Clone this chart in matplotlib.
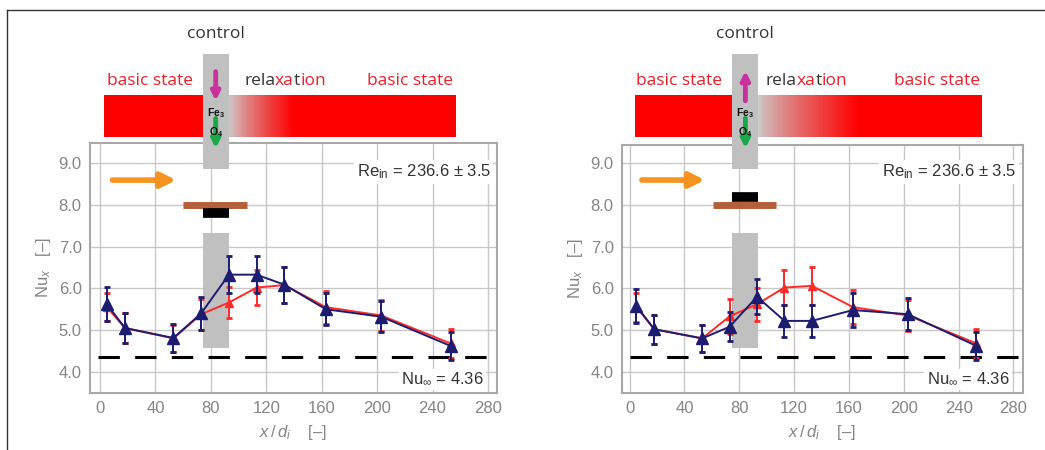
import matplotlib
matplotlib.use('Agg')
import matplotlib.pyplot as plt
import numpy as np
from matplotlib.lines import Line2D
from matplotlib.patches import Rectangle

plt.rcParams['font.family'] = ['Liberation Sans', 'DejaVu Sans']
plt.rcParams['mathtext.fontset'] = 'custom'
plt.rcParams['mathtext.rm'] = 'Liberation Sans'
plt.rcParams['mathtext.it'] = 'Liberation Sans:italic'

# positions along the tube, x/d_i
x = [5, 18, 53, 73, 93, 113, 133, 163, 203, 253]

# left panel (control: Fe3O4 moved down)
blue_a = [5.62, 5.05, 4.81, 5.40, 6.33, 6.33, 6.09, 5.50, 5.32, 4.62]
blue_a_err = [0.41, 0.35, 0.33, 0.39, 0.44, 0.44, 0.43, 0.38, 0.37, 0.33]
red_a = [5.55, 5.05, 4.80, 5.38, 5.66, 6.02, 6.08, 5.55, 5.35, 4.68]
red_a_err = [0.33, 0.35, 0.33, 0.37, 0.38, 0.42, 0.43, 0.40, 0.38, 0.35]

# right panel (control: Fe3O4 moved up)
blue_b = [5.58, 5.02, 4.80, 5.08, 5.80, 5.22, 5.22, 5.48, 5.38, 4.62]
blue_b_err = [0.40, 0.35, 0.33, 0.35, 0.42, 0.38, 0.38, 0.40, 0.38, 0.33]
red_b = [5.55, 5.02, 4.80, 5.33, 5.62, 6.02, 6.06, 5.55, 5.35, 4.68]
red_b_err = [0.35, 0.35, 0.33, 0.42, 0.40, 0.43, 0.45, 0.40, 0.37, 0.35]

nu_inf = 4.36
xticks = [0, 40, 80, 120, 160, 200, 240, 280]
yticks = [4.0, 5.0, 6.0, 7.0, 8.0, 9.0]

W, H = 1045, 450
fig = plt.figure(figsize=(W / 100, H / 100), dpi=100)

RED = '#ff0000'
TRED = '#e8202a'
DARK = '#333333'
GREY = '#c0c0c0'
NAVY = '#1c1c70'
LRED = '#ff2a2a'


def px_axes(l, r, t, b):
    return fig.add_axes([l / W, (H - b) / H, (r - l) / W, (b - t) / H])


def multicolor(ax, xc, y, pieces, size):
    r = fig.canvas.get_renderer()
    full = ax.text(xc, y, ''.join(p for p, c in pieces), fontsize=size,
                   family='Open Sans')
    total = full.get_window_extent(r).width
    full.remove()
    off = -total / 2
    for p, c in pieces:
        t = ax.annotate(p, (xc, y), xytext=(off, 0), textcoords='offset pixels',
                        fontsize=size, family='Open Sans', color=c,
                        ha='left', va='center', annotation_clip=False)
        off += t.get_window_extent(r).width


def panel(ax, xlim, ylim, blue, blue_err, red, red_err, col, grad_end, bar_l, bar_r,
          bs1, rel, bs2, up, black_y, brown_y, bar_x0, bar_x1):
    ax.set_xlim(*xlim)
    ax.set_ylim(*ylim)
    ax.set_xticks(xticks)
    ax.set_yticks(yticks)
    ax.set_yticklabels(['%.1f' % v for v in yticks])
    ax.tick_params(length=0, labelsize=12, labelcolor='#858585', pad=6)
    ax.grid(True, color='#c8c8c8', lw=1)
    ax.set_axisbelow(True)
    for s in ax.spines.values():
        s.set_color('#a8a8a8')
        s.set_linewidth(1.5)

    c0, c1 = col
    # red state bar with relaxation gradient
    ax.add_patch(Rectangle((bar_l, 9.63), c0 - bar_l, 1.0, fc=RED, lw=0,
                           clip_on=False, zorder=3))
    ax.add_patch(Rectangle((grad_end - 0.5, 9.63), bar_r - grad_end + 0.5, 1.0,
                           fc=RED, lw=0, clip_on=False, zorder=3))
    n = 120
    edges = np.linspace(c1, grad_end, n + 1)
    for i in range(n):
        f = (i / (n - 1)) ** 0.8
        colr = (0.80 + 0.20 * f, 0.80 * (1 - f), 0.80 * (1 - f))
        ax.add_patch(Rectangle((edges[i], 9.63), edges[i + 1] - edges[i] + 0.3, 1.0,
                               fc=colr, lw=0, clip_on=False, zorder=3))

    # control column
    ax.add_patch(Rectangle((c0, 8.86), c1 - c0, 11.62 - 8.86, fc=GREY, lw=0,
                           clip_on=False, zorder=4))
    ax.add_patch(Rectangle((c0, 4.57), c1 - c0, 7.32 - 4.57, fc=GREY, lw=0,
                           zorder=1.5))
    cx = (c0 + c1) / 2
    if up:
        y0, y1 = 10.5, 11.22
    else:
        y0, y1 = 11.2, 10.5
    ax.annotate('', xy=(cx, y1), xytext=(cx, y0), annotation_clip=False,
                arrowprops=dict(arrowstyle='-|>', color='#c8329c', lw=3.5,
                                mutation_scale=12, shrinkA=0, shrinkB=0),
                zorder=5)
    ax.annotate('', xy=(cx, 9.36), xytext=(cx, 10.08), annotation_clip=False,
                arrowprops=dict(arrowstyle='-|>', color='#1aa84a', lw=3.5,
                                mutation_scale=12, shrinkA=0, shrinkB=0),
                zorder=5)
    ax.text(cx, 10.2, r'Fe$_{\mathregular{3}}$', fontsize=7.5, fontweight='bold',
            ha='center', va='center', color='#111111', zorder=6, clip_on=False)
    ax.text(cx, 9.76, r'O$_{\mathregular{4}}$', fontsize=7.5, fontweight='bold',
            ha='center', va='center', color='#111111', zorder=6, clip_on=False)

    ax.text(cx, 12.1, 'control', fontsize=12.5, family='Open Sans', color=DARK,
            ha='center', va='center', clip_on=False)
    ax.text(bs1, 10.98, 'basic state', fontsize=12.5, family='Open Sans',
            color=TRED, ha='center', va='center', clip_on=False)
    ax.text(bs2, 10.98, 'basic state', fontsize=12.5, family='Open Sans',
            color=TRED, ha='center', va='center', clip_on=False)
    multicolor(ax, rel, 10.98, [('rela', DARK), ('xa', TRED), ('t', DARK),
                                ('ion', TRED)], 12.5)

    # inflow arrow and heater bars
    ax.annotate('', xy=(55, 8.6), xytext=(9, 8.6),
                arrowprops=dict(arrowstyle='-|>', color='#f7931e', lw=4,
                                mutation_scale=22, shrinkA=0, shrinkB=0))
    ax.plot([bar_x0, bar_x1], [brown_y, brown_y], color='#b5603a', lw=5,
            solid_capstyle='butt')
    ax.plot([c0, c1], [black_y, black_y], color='black', lw=7,
            solid_capstyle='butt')

    ax.axhline(nu_inf, color='black', lw=2.2, dashes=(7, 5), xmin=0.02,
               xmax=0.995, zorder=2)

    ax.errorbar(x, red, yerr=red_err, color=LRED, marker='^', ms=6, lw=1.4,
                capsize=2.5, capthick=2, elinewidth=1.4, zorder=3)
    ax.errorbar(x, blue, yerr=blue_err, color=NAVY, marker='^', ms=8, lw=1.4,
                capsize=2.5, capthick=2, elinewidth=1.4, zorder=3.2)

    ax.text(282, 8.8, r'Re$_{\mathregular{in}}$ = 236.6 ± 3.5', fontsize=12,
            color=DARK, ha='right', va='center', zorder=5,
            bbox=dict(boxstyle='square,pad=0.15', fc='white', ec='none'))
    ax.text(277, 3.82, r'Nu$_{\infty}$ = 4.36', fontsize=12, color=DARK,
            ha='right', va='center', zorder=5,
            bbox=dict(boxstyle='square,pad=0.15', fc='white', ec='none'))

    ax.set_ylabel(r'Nu$_x$   [–]', fontsize=12, color='#858585', labelpad=4)
    ax.set_xlabel(r'$x\,/\,d_i$    [–]', fontsize=12, color='#858585', labelpad=5)


ax1 = px_axes(90, 497, 143, 393)
ax2 = px_axes(622, 1023, 145, 393)

panel(ax1, (-7.2, 286.5), (3.49, 9.49), blue_a, blue_a_err, red_a, red_a_err,
      (74, 93), 140, 3, 257, 36, 133.5, 224, False, 7.8, 8.0, 60, 106)
panel(ax2, (-5.5, 287), (3.49, 9.44), blue_b, blue_b_err, red_b, red_b_err,
      (75, 94), 167, 4, 257, 36, 129, 224, True, 8.19, 7.99, 61, 107)

# outer frame of the figure
fig.add_artist(Line2D([7 / W, 1], [1 - 10 / H, 1 - 10 / H], color='#333333', lw=1))
fig.add_artist(Line2D([7 / W, 7 / W], [0, 1 - 10 / H], color='#333333', lw=1))

fig.savefig('out.png', dpi=100)
